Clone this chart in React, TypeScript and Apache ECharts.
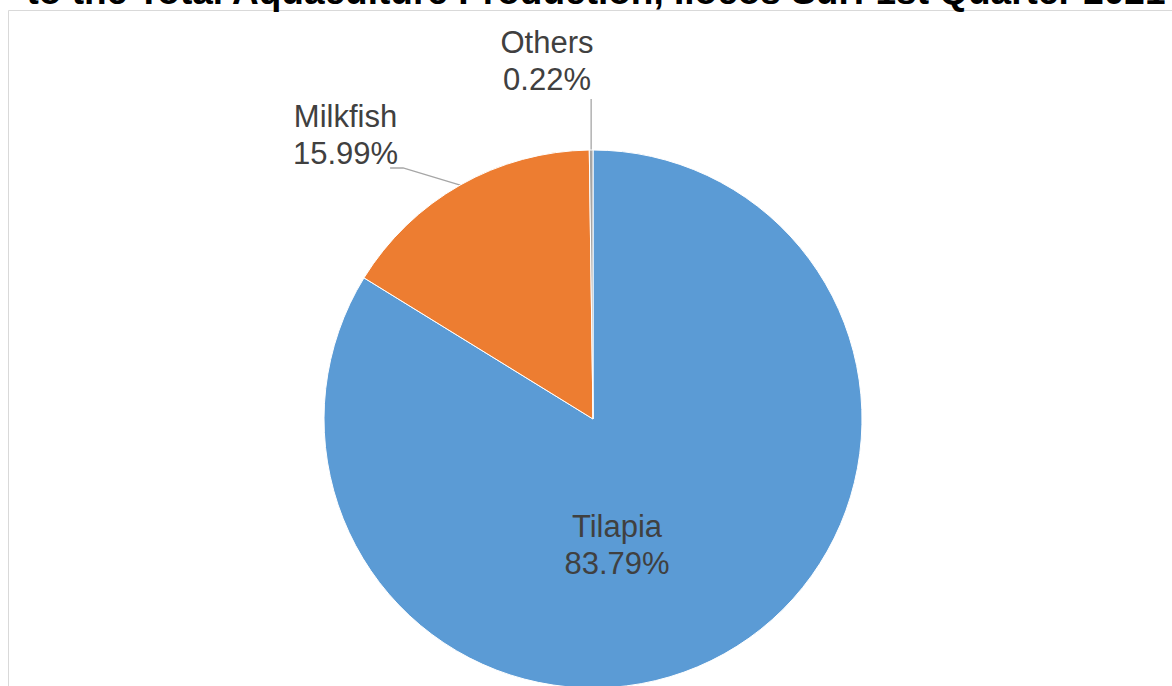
import React, { useEffect, useRef } from "react";
import * as echarts from "echarts";

const species = ["Tilapia", "Milkfish", "Others"];
const shares = [83.79, 15.99, 0.22];
const sliceColors = ["#5B9BD5", "#ED7D31", "#A5A5A5"];
const titleText = "to the Total Aquaculture Production, Ilocos Sur: 1st Quarter 2021";

const FONT = "'Liberation Sans', Arial, Helvetica, sans-serif";

export default function App() {
  const ref = useRef<HTMLDivElement>(null);
  useEffect(() => {
    const chart = echarts.init(ref.current as HTMLDivElement, null, { renderer: "svg" });
    const labelSpots = [
      { x: 617, y: 545 },
      { x: 345.5, y: 135 },
      { x: 547, y: 61 },
    ];
    chart.setOption({
      animation: false,
      backgroundColor: "#ffffff",
      graphic: [
        {
          type: "rect",
          silent: true,
          z: -1,
          shape: { x: 8.5, y: 10.5, width: 1400, height: 1000 },
          style: { fill: "none", stroke: "#D9D9D9", lineWidth: 1 },
        },
        {
          type: "text",
          x: 596,
          y: -9,
          style: {
            text: titleText,
            font: `bold 37px ${FONT}`,
            fill: "#000000",
            textAlign: "center",
            textVerticalAlign: "middle",
            align: "center",
            verticalAlign: "middle",
          },
        },
      ],
      series: [
        {
          type: "pie",
          center: [593, 419],
          radius: 269,
          startAngle: 90,
          clockwise: true,
          avoidLabelOverlap: false,
          itemStyle: { borderColor: "#ffffff", borderWidth: 1 },
          label: {
            show: true,
            position: "outside",
            formatter: (p: any) => `${p.name}\n${Number(p.value).toFixed(2)}%`,
            color: "#404040",
            fontFamily: FONT,
            fontSize: 31,
            lineHeight: 37,
          },
          labelLine: {
            show: true,
            length: 20,
            length2: 10,
            lineStyle: { color: "#A6A6A6", width: 1.3 },
          },
          labelLayout: (params: any) => {
            const i = params.dataIndex;
            const s = labelSpots[i];
            const w = params.labelRect.width;
            const h = params.labelRect.height;
            const out: any = { x: s.x, y: s.y, align: "center", verticalAlign: "middle" };
            const pts = params.labelLinePoints;
            if (pts && pts.length && i > 0) {
              const p0 = pts[0];
              const right = s.x + w / 2;
              const bottom = s.y + h / 2;
              if (i === 1) {
                out.labelLinePoints = [p0, [right + 5, bottom - 4], [right - 8, bottom - 4]];
              } else {
                out.labelLinePoints = [p0, [p0[0], bottom + 1], [p0[0], bottom + 1]];
              }
            }
            return out;
          },
          data: species.map((name, i) => ({
            name,
            value: shares[i],
            itemStyle: { color: sliceColors[i] },
            label: i === 0 ? { position: "inside" } : undefined,
            labelLine: i === 0 ? { show: false } : undefined,
          })),
        },
      ],
    });
    return () => chart.dispose();
  }, []);
  return (
    <div
      ref={ref}
      style={{ position: "fixed", left: 0, top: 0, width: 1172, height: 686 }}
    />
  );
}
